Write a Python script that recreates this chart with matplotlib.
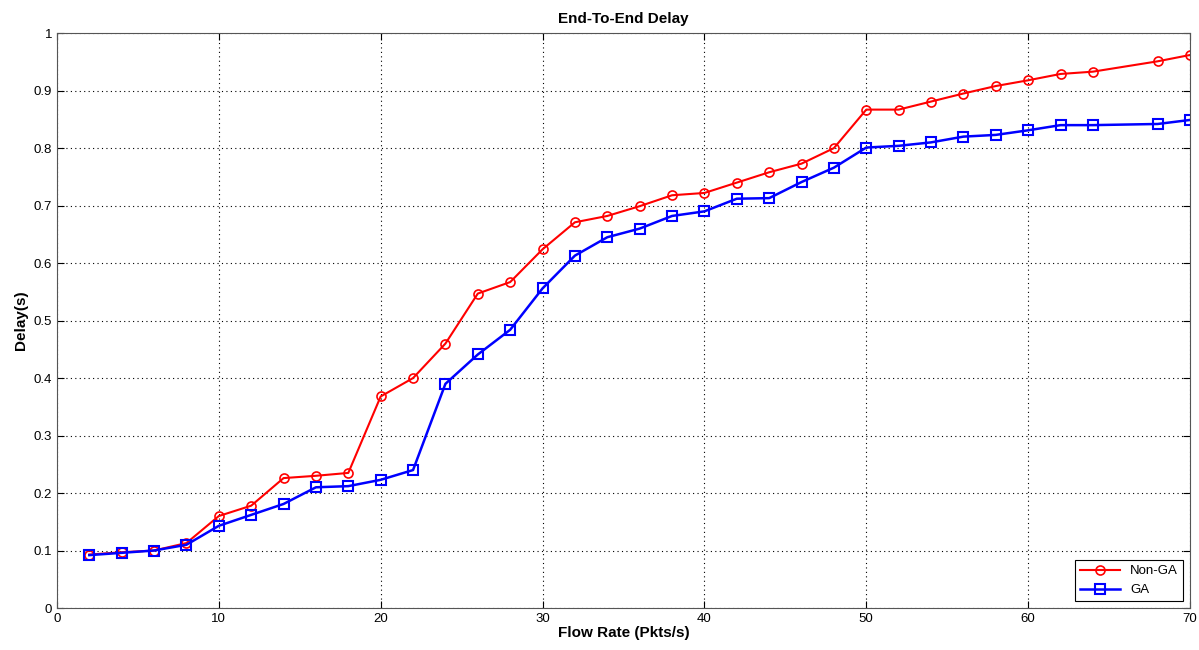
import matplotlib
matplotlib.use('Agg')
import matplotlib.pyplot as plt
import numpy as np

plt.rcParams['font.family'] = ['Liberation Sans', 'DejaVu Sans']

# data
flow_rate = [2, 4, 6, 8, 10, 12, 14, 16, 18, 20, 22, 24, 26, 28, 30, 32, 34,
             36, 38, 40, 42, 44, 46, 48, 50, 52, 54, 56, 58, 60, 62, 64, 68, 70]
non_ga = [0.093, 0.097, 0.100, 0.113, 0.160, 0.178, 0.226, 0.230, 0.235, 0.368,
          0.400, 0.460, 0.547, 0.567, 0.624, 0.671, 0.682, 0.699, 0.718, 0.722,
          0.740, 0.758, 0.773, 0.800, 0.867, 0.867, 0.881, 0.895, 0.908, 0.918,
          0.929, 0.933, 0.951, 0.962]
ga = [0.092, 0.096, 0.100, 0.110, 0.143, 0.162, 0.181, 0.210, 0.212, 0.223,
      0.240, 0.390, 0.441, 0.484, 0.556, 0.613, 0.645, 0.660, 0.682, 0.690,
      0.712, 0.713, 0.741, 0.766, 0.801, 0.804, 0.810, 0.820, 0.823, 0.831,
      0.840, 0.840, 0.842, 0.849]

x_ticks = [0, 10, 20, 30, 40, 50, 60, 70]
y_ticks = [0, 0.1, 0.2, 0.3, 0.4, 0.5, 0.6, 0.7, 0.8, 0.9, 1]
y_labels = ['0', '0.1', '0.2', '0.3', '0.4', '0.5', '0.6', '0.7', '0.8', '0.9', '1']

fig = plt.figure(figsize=(11.99, 6.5), dpi=100)
ax = fig.add_axes([0.0475, 0.0646, 0.945, 0.8844])

ax.plot(flow_rate, non_ga, color='red', marker='o', markersize=6.5,
        markerfacecolor='none', markeredgewidth=1.2, linewidth=1.5, label='Non-GA')
ax.plot(flow_rate, ga, color='blue', marker='s', markersize=7,
        markerfacecolor='none', markeredgewidth=1.5, linewidth=1.8, label='GA')

ax.set_xlim(0, 70)
ax.set_ylim(0, 1)
ax.set_xticks(x_ticks)
ax.set_yticks(y_ticks)
ax.set_yticklabels(y_labels)
ax.tick_params(direction='in', top=True, right=True, labelsize=9.5, length=5)
ax.grid(True, linestyle=(0, (1, 3)), color='black', linewidth=0.8)
for s in ax.spines.values():
    s.set_color('#555555')

ax.set_title('End-To-End Delay', fontsize=11, fontweight='bold', pad=7)
ax.set_xlabel('Flow Rate (Pkts/s)', fontsize=11, fontweight='bold', labelpad=1)
ax.set_ylabel('Delay(s)', fontsize=11, fontweight='bold', labelpad=4)

leg = ax.legend(loc='lower right', fontsize=9.5, fancybox=False, framealpha=1,
                edgecolor='black', borderpad=0.4, handlelength=3)
leg.get_frame().set_linewidth(0.8)

fig.savefig('out.png', dpi=100)
